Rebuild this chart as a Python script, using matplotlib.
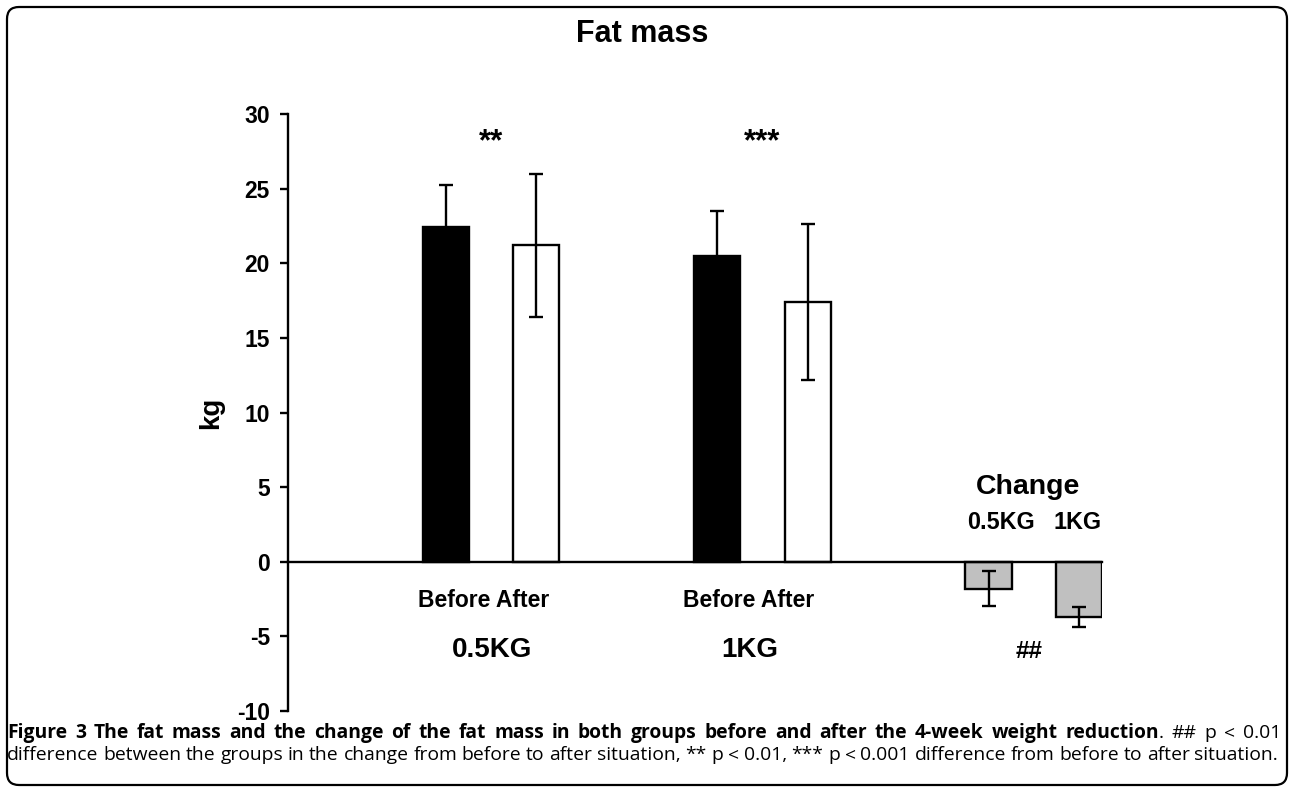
import matplotlib
matplotlib.use('Agg')
import matplotlib.pyplot as plt
from matplotlib.patches import FancyBboxPatch
from matplotlib.transforms import IdentityTransform

# ---------------- data ----------------
categories = ['Before 0.5KG', 'After 0.5KG', 'Before 1KG', 'After 1KG',
              'Change 0.5KG', 'Change 1KG']
values = [22.4, 21.2, 20.5, 17.4, -1.8, -3.7]
errors = [2.85, 4.8, 3.0, 5.2, 1.15, 0.7]
bar_colors = ['black', 'white', 'black', 'white', '#c0c0c0', '#c0c0c0']
yticks = [-10, -5, 0, 5, 10, 15, 20, 25, 30]
group_labels = ['0.5KG', '1KG']
change_labels = ['0.5KG', '1KG']
pair_sig = ['**', '***']
change_sig = '##'

# ---------------- layout ----------------
positions = [0, 1, 3, 4, 6, 7]
bar_width = 0.51
W, H, DPI = 1292, 788, 100

plt.rcParams['font.family'] = ['Liberation Sans', 'DejaVu Sans']
fig = plt.figure(figsize=(W / DPI, H / DPI), dpi=DPI)
fig.patch.set_facecolor('white')

ax = fig.add_axes([288 / W, 1 - 711 / H, (1102 - 288) / W, (711 - 114) / H])
ax.bar(positions, values, width=bar_width, color=bar_colors,
       edgecolor='black', linewidth=1.7, zorder=2)
ax.errorbar(positions, values, yerr=errors, fmt='none', ecolor='black',
            elinewidth=1.7, capsize=4.7, capthick=1.7, zorder=3)

ax.set_xlim(-1.746, positions[-1] + bar_width / 2)
ax.set_ylim(-10, 30)
ax.set_yticks(yticks)
ax.set_yticklabels([str(t) for t in yticks], fontsize=16.5, fontweight='bold')
ax.tick_params(axis='y', direction='out', length=6, width=1.7, pad=7)
ax.set_xticks([])
for s in ['top', 'right']:
    ax.spines[s].set_visible(False)
ax.spines['left'].set_linewidth(1.7)
ax.spines['bottom'].set_linewidth(1.7)
ax.spines['bottom'].set_position(('data', 0))
ax.set_facecolor('none')

ax.set_ylabel('kg', fontsize=20, fontweight='bold')
ax.yaxis.set_label_coords(-0.0946, 0.5)
ax.yaxis.label.set_va('center')

# significance marks above pairs
for i, s in enumerate(pair_sig):
    xc = (positions[2 * i] + positions[2 * i + 1]) / 2
    ax.text(xc, 27.6, s, ha='center', va='baseline', fontsize=22.5, fontweight='bold')

# group labels
before_after_x = [0.42, 3.35]
group_x = [0.51, 3.36]
for i in range(2):
    ax.text(before_after_x[i], -2.6, 'Before After', ha='center', va='center',
            fontsize=16.5, fontweight='bold')
    ax.text(group_x[i], -5.9, group_labels[i], ha='center', va='center',
            fontsize=20, fontweight='bold')

ax.text(6.44, 5.0, 'Change', ha='center', va='center', fontsize=20.5, fontweight='bold')
ax.text(6.14, 2.6, change_labels[0], ha='center', va='center', fontsize=16.8, fontweight='bold')
ax.text(6.98, 2.6, change_labels[1], ha='center', va='center', fontsize=16.8, fontweight='bold')
ax.text(6.45, -6.0, change_sig, ha='center', va='center', fontsize=17.5, fontweight='bold')

# title
fig.text(642 / W, 1 - 34 / H, 'Fat mass', ha='center', va='center',
         fontsize=22, fontweight='bold')

# rounded border
border = FancyBboxPatch((0.07, 0.03), 12.80, 7.78,
                        boxstyle='round,pad=0,rounding_size=0.12',
                        transform=fig.dpi_scale_trans, fill=False,
                        edgecolor='black', linewidth=1.6)
fig.add_artist(border)

# caption (justified)
cap_font = ['Open Sans', 'DejaVu Sans']
line1_bold = 'Figure 3 The fat mass and the change of the fat mass in both groups before and after the 4-week weight reduction'
line1_rest = '## p < 0.01'
line2_text = 'difference between the groups in the change from before to after situation, ** p < 0.01, *** p < 0.001 difference from before to after situation.'

renderer = fig.canvas.get_renderer()

# choose caption size so that line 2 naturally fills the width
probe = fig.text(0, 0, line2_text, fontsize=12, family=cap_font,
                 transform=IdentityTransform())
nat = probe.get_window_extent(renderer).width
probe.remove()
cap_size = 12 * (1278 - 7) / nat

words1 = ([[(w, 'bold')] for w in line1_bold.split()[:-1]]
          + [[(line1_bold.split()[-1], 'bold'), ('.', 'normal')]]
          + [[(w, 'normal')] for w in line1_rest.split()])
words2 = [[(w, 'normal')] for w in line2_text.split()]


def draw_justified(words, baseline_px, x_left, x_right):
    items = []
    total = 0.0
    for w in words:
        segs = []
        for txt, wt in w:
            t = fig.text(0, 0, txt, fontsize=cap_size, fontweight=wt,
                         family=cap_font, transform=IdentityTransform(),
                         va='baseline', ha='left')
            width = t.get_window_extent(renderer).width
            segs.append((t, width))
            total += width
        items.append(segs)
    gap = (x_right - x_left - total) / (len(words) - 1)
    x = x_left
    y = H - baseline_px
    for segs in items:
        for t, width in segs:
            t.set_position((x, y))
            x += width
        x += gap


draw_justified(words1, 738, 7, 1281)
draw_justified(words2, 760, 7, 1278)

fig.savefig('out.png', dpi=DPI, facecolor='white')
